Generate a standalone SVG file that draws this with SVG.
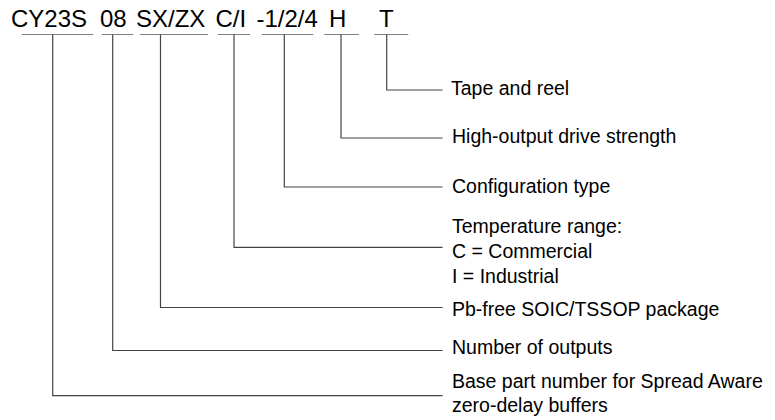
<svg xmlns="http://www.w3.org/2000/svg" width="775" height="420" viewBox="0 0 775 420">
<style>
.code{font-family:"Liberation Sans",Arial,sans-serif;font-size:24px;fill:#000}
.lbl{font-family:"Liberation Sans",Arial,sans-serif;font-size:19.5px;fill:#000}
.ul{stroke:#808080;stroke-width:1.2;fill:none}
.con{stroke:#444;stroke-width:1.2;fill:none}
</style>
<rect width="775" height="420" fill="#fff"/>
<g id="code">
<text class="code" x="11" y="27">CY23S</text>
<text class="code" x="100" y="27">08</text>
<text class="code" x="136" y="27">SX/ZX</text>
<text class="code" x="215.5" y="27">C/I</text>
<text class="code" x="256.5" y="27">-1/2/4</text>
<text class="code" x="329" y="27">H</text>
<text class="code" x="379" y="27">T</text>
</g>
<g id="underlines">
<line class="ul" x1="21.7" y1="34.5" x2="93.3" y2="34.5"/>
<line class="ul" x1="101.7" y1="34.5" x2="133.3" y2="34.5"/>
<line class="ul" x1="140" y1="34.5" x2="208" y2="34.5"/>
<line class="ul" x1="217.7" y1="34.5" x2="250" y2="34.5"/>
<line class="ul" x1="261.7" y1="34.5" x2="313.3" y2="34.5"/>
<line class="ul" x1="324.3" y1="34.5" x2="359" y2="34.5"/>
<line class="ul" x1="374.3" y1="34.5" x2="408.3" y2="34.5"/>
</g>
<g id="connectors">
<polyline class="con" points="386.7,34.5 386.7,90 442.5,90"/>
<polyline class="con" points="341,34.5 341,138 442.5,138"/>
<polyline class="con" points="284.3,34.5 284.3,187 442.5,187"/>
<polyline class="con" points="234,34.5 234,247.3 442.5,247.3"/>
<polyline class="con" points="160.5,34.5 160.5,307.5 442.5,307.5"/>
<polyline class="con" points="112.7,34.5 112.7,350.5 442.5,350.5"/>
<polyline class="con" points="52.7,34.5 52.7,395.7 442.5,395.7"/>
</g>
<g id="label-tape"><text class="lbl" x="451" y="95">Tape and reel</text></g>
<g id="label-high"><text class="lbl" x="452" y="143">High-output drive strength</text></g>
<g id="label-config"><text class="lbl" x="452" y="193">Configuration type</text></g>
<g id="label-temp">
<text class="lbl" x="452" y="233">Temperature range:</text>
<text class="lbl" x="452" y="258">C = Commercial</text>
<text class="lbl" x="452" y="283">I = Industrial</text>
</g>
<g id="label-pkg"><text class="lbl" x="452" y="316">Pb-free SOIC/TSSOP package</text></g>
<g id="label-outputs"><text class="lbl" x="452" y="354">Number of outputs</text></g>
<g id="label-base">
<text class="lbl" x="452" y="388">Base part number for Spread Aware</text>
<text class="lbl" x="452" y="412">zero-delay buffers</text>
</g>
</svg>
